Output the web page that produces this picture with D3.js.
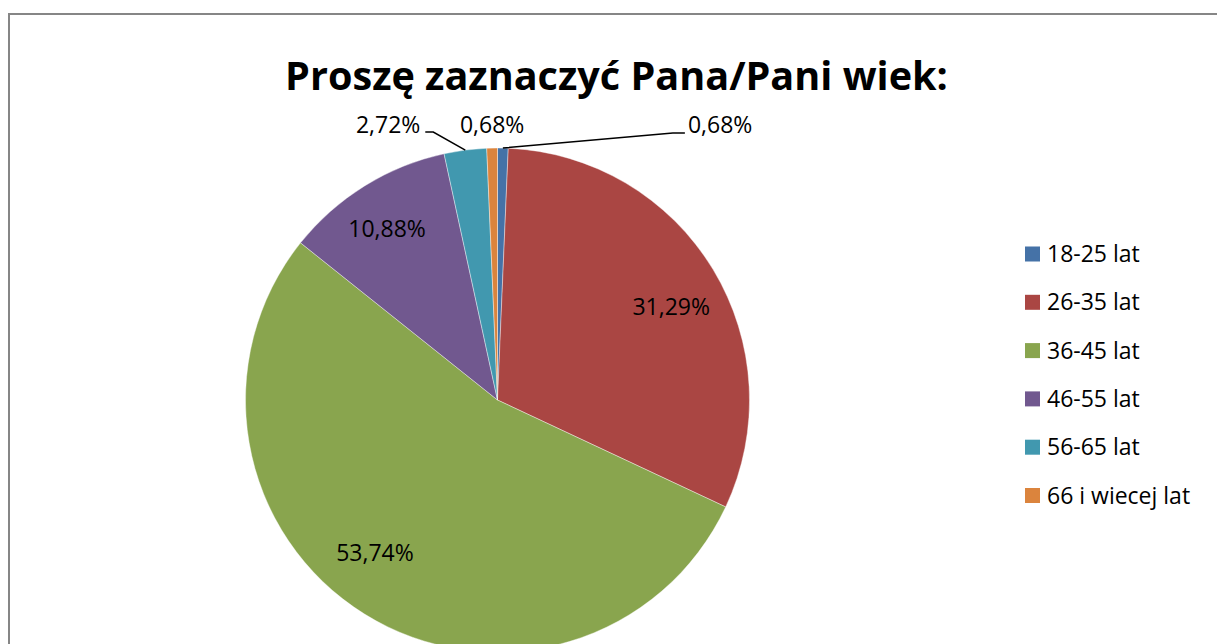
<!DOCTYPE html>
<html>
<head>
<meta charset="utf-8">
<script src="https://cdn.jsdelivr.net/npm/d3@7"></script>
<style>
  html, body { margin: 0; padding: 0; background: #fff; overflow: hidden; }
  text { font-family: "Open Sans", "DejaVu Sans", sans-serif; }
</style>
</head>
<body>
<script>
const categories = ["18-25 lat", "26-35 lat", "36-45 lat", "46-55 lat", "56-65 lat", "66 i wiecej lat"];
const values = [0.68, 31.29, 53.74, 10.88, 2.72, 0.68];
const colors = ["#4572A7", "#AA4643", "#89A54E", "#71588F", "#4198AF", "#DB843D"];
const title = "Proszę zaznaczyć Pana/Pani wiek:";

document.addEventListener("DOMContentLoaded", function () {
    const width = 1217, height = 644;
    const cx = 497.5, cy = 400, radius = 252;

    const svg = d3.select("body")
        .append("svg")
        .attr("width", width)
        .attr("height", height);

    // chart frame (runs off the right and bottom of the window)
    svg.append("rect")
        .attr("x", 9)
        .attr("y", 14)
        .attr("width", 1400)
        .attr("height", 900)
        .attr("fill", "#fff")
        .attr("stroke", "#868686")
        .attr("stroke-width", 2);

    // title, sized to fill the same width as the reference
    const t = svg.append("text")
        .attr("x", 616.5)
        .attr("y", 90)
        .attr("text-anchor", "middle")
        .attr("font-weight", "bold")
        .attr("font-size", 40)
        .attr("fill", "#000")
        .text(title);
    const tw = t.node().getComputedTextLength();
    t.attr("font-size", 40 * 663 / tw);

    const pie = d3.pie().sort(null).value(d => d);
    const arcs = pie(values);

    const arc = d3.arc().innerRadius(0).outerRadius(radius);
    const labelArc = d3.arc().innerRadius(radius * 0.79).outerRadius(radius * 0.79);
    const edgeArc = d3.arc().innerRadius(radius).outerRadius(radius);

    const g = svg.append("g").attr("transform", `translate(${cx},${cy})`);

    g.selectAll("path.slice")
        .data(arcs)
        .enter()
        .append("path")
        .attr("class", "slice")
        .attr("d", arc)
        .attr("fill", (d, i) => colors[i])
        .attr("stroke", "#fff")
        .attr("stroke-width", 0.4);

    const fmt = v => d3.format(".2f")(v).replace(".", ",") + "%";

    // inside labels: small nudges from the centroid, like Excel's best fit
    const nudge = { 1: [3.5, 10], 2: [-17.5, -16], 3: [-5.5, -2] };

    // small slices get their labels outside the pie
    // offsets are relative to the point where the slice meets the rim
    const outside = {
        0: { text: [185, -15.5], anchor: "start", leader: [[170, -15], [182, -15]] },
        4: { text: [-45, -17.5], anchor: "end", leader: [[-32, -18], [-40, -18]] },
        5: { text: [0, -15.5], anchor: "middle", leader: null }
    };

    const labels = svg.append("g").attr("transform", `translate(${cx},${cy})`);

    arcs.forEach((d, i) => {
        const spec = outside[i];
        if (!spec) {
            const [lx, ly] = labelArc.centroid(d);
            const n = nudge[i] || [0, 0];
            labels.append("text")
                .attr("x", lx + n[0])
                .attr("y", ly + n[1])
                .attr("dy", "0.35em")
                .attr("text-anchor", "middle")
                .attr("font-size", 23)
                .attr("fill", "#000")
                .text(fmt(values[i]));
            return;
        }
        const [ex, ey] = edgeArc.centroid(d);
        if (spec.leader) {
            const pts = [[ex, ey]].concat(spec.leader.map(p => [ex + p[0], ey + p[1]]));
            labels.append("path")
                .attr("d", d3.line()(pts))
                .attr("fill", "none")
                .attr("stroke", "#000")
                .attr("stroke-width", 1.5);
        }
        labels.append("text")
            .attr("x", ex + spec.text[0])
            .attr("y", ey + spec.text[1])
            .attr("text-anchor", spec.anchor)
            .attr("font-size", 23)
            .attr("fill", "#000")
            .text(fmt(values[i]));
    });

    // legend
    const legend = svg.append("g").attr("transform", "translate(1025,254)");
    const rowStep = 48.3;

    const items = legend.selectAll("g.item")
        .data(categories)
        .enter()
        .append("g")
        .attr("class", "item")
        .attr("transform", (d, i) => `translate(0,${i * rowStep})`);

    items.append("rect")
        .attr("x", 0)
        .attr("y", -7.5)
        .attr("width", 15)
        .attr("height", 15)
        .attr("fill", (d, i) => colors[i]);

    items.append("text")
        .attr("x", 22)
        .attr("y", 0)
        .attr("dy", "0.35em")
        .attr("font-size", 23)
        .attr("fill", "#000")
        .text(d => d);
});
</script>
</body>
</html>
